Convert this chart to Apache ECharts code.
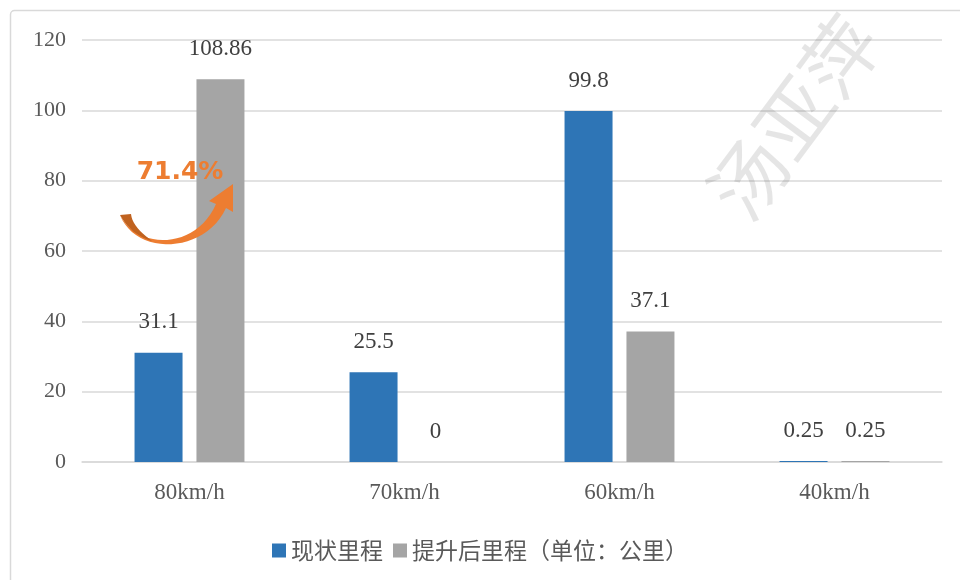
<!DOCTYPE html>
<html><head><meta charset="utf-8">
<script src="https://cdn.jsdelivr.net/npm/echarts@6/dist/echarts.min.js"></script>
<style>html,body{margin:0;padding:0;background:#fff}#c{width:960px;height:580px}</style>
</head><body><div id="c"></div>
<script>
const categories = ['80km/h', '70km/h', '60km/h', '40km/h'];
const currentMileage = [31.1, 25.5, 99.8, 0.25];
const upgradedMileage = [108.86, 0, 37.1, 0.25];
const yTicks = [0, 20, 40, 60, 80, 100, 120];
const seriesNames = ['现状里程', '提升后里程（单位：公里）'];
const growthText = '71.4%';
const watermark = '汤亚萍';

function bez(p0, p1, p2, p3, n) {
  const out = [];
  for (let i = 0; i <= n; i++) {
    const t = i / n, u = 1 - t;
    out.push([
      u*u*u*p0[0] + 3*u*u*t*p1[0] + 3*u*t*t*p2[0] + t*t*t*p3[0],
      u*u*u*p0[1] + 3*u*u*t*p1[1] + 3*u*t*t*p2[1] + t*t*t*p3[1]
    ]);
  }
  return out;
}
const arrowPts = [].concat(
  bez([120,215],[138,250],[196,250],[216,204], 24),
  [[209,201],[233,184],[233,212],[226,208]],
  bez([226,208],[205,254],[136,256],[120,215], 24)
);
const shadePts = [].concat(
  bez([120,215],[127,228],[138,237],[152,241], 10),
  bez([152,241],[141,233],[132,224],[131,214], 10)
);

const chart = echarts.init(document.getElementById('c'));
const serif = '"Liberation Serif", "Times New Roman", serif';
const labelStyle = {
  show: true, position: 'top', distance: 19,
  fontFamily: serif, fontSize: 23, color: '#404040'
};
chart.setOption({
  animation: false,
  backgroundColor: '#fff',
  grid: { left: 82, right: 18, top: 40, bottom: 118 },
  legend: {
    bottom: 13, left: 'center', itemWidth: 14, itemHeight: 14, itemGap: 10,
    icon: 'rect',
    textStyle: { fontFamily: '"Noto Sans CJK SC"', fontSize: 23, color: '#595959' },
    data: seriesNames
  },
  xAxis: {
    type: 'category', data: categories,
    axisLine: { lineStyle: { color: '#d9d9d9', width: 1.5 } },
    axisTick: { show: false },
    axisLabel: { margin: 19, fontFamily: serif, fontSize: 23, color: '#595959' }
  },
  yAxis: {
    type: 'value', min: yTicks[0], max: yTicks[yTicks.length - 1], interval: 20,
    axisLine: { show: false }, axisTick: { show: false },
    splitLine: { lineStyle: { color: '#d9d9d9', width: 1.5 } },
    axisLabel: { margin: 16, fontFamily: serif, fontSize: 22, color: '#595959' }
  },
  series: [
    { name: seriesNames[0], type: 'bar', data: currentMileage, barWidth: 48, barGap: '29%',
      itemStyle: { color: '#2E75B6' }, label: labelStyle },
    { name: seriesNames[1], type: 'bar', data: upgradedMileage, barWidth: 48,
      itemStyle: { color: '#A5A5A5' }, label: labelStyle }
  ],
  graphic: [
    { type: 'rect', silent: true, z: -10, shape: { x: 10.5, y: 10.5, width: 1000, height: 1000, r: 4 },
      style: { fill: 'none', stroke: '#d9d9d9', lineWidth: 1.5 } },
    { type: 'text', silent: true, z: 100, x: 794, y: 117, rotation: 0.93,
      style: { text: watermark, fontFamily: '"Noto Sans CJK SC"', fontWeight: 'normal', fontSize: 76,
        fill: 'rgba(0,0,0,0.10)', align: 'center', verticalAlign: 'middle' } },
    { type: 'polygon', silent: true, z: 50, shape: { points: arrowPts },
      style: { fill: '#ED7D31' } },
    { type: 'polygon', silent: true, z: 51, shape: { points: shadePts },
      style: { fill: '#C0621F' } },
    { type: 'text', silent: true, z: 60, x: 180, y: 172,
      style: { text: growthText, fontFamily: '"DejaVu Sans", sans-serif', fontWeight: 'bold', fontSize: 25,
        fill: '#ED7D31', align: 'center', verticalAlign: 'middle',
        shadowColor: 'rgba(0,0,0,0.35)', shadowBlur: 3, shadowOffsetX: 2, shadowOffsetY: 2 } }
  ]
});
</script></body></html>
